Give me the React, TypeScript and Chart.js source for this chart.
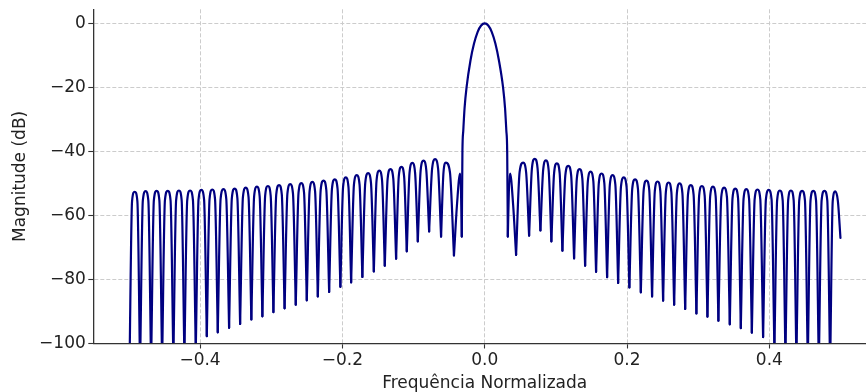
import React, { useEffect, useRef } from 'react';
import { Chart, registerables } from 'chart.js';

Chart.register(...registerables);

// Null (lobe boundary) frequencies and levels, left to right (curve start/end included)
const nullFreq = [
  -0.4993, -0.4843, -0.4688, -0.4533, -0.4375, -0.4220, -0.4060, -0.3905, -0.3751, -0.3592,
  -0.3437, -0.3279, -0.3124, -0.2969, -0.2812, -0.2655, -0.2500, -0.2345, -0.2186, -0.2028,
  -0.1877, -0.1719, -0.1558, -0.1404, -0.1245, -0.1095, -0.0940, -0.0781, -0.0613, -0.0432,
  -0.0322,
  0.0325, 0.0441, 0.0624, 0.0783, 0.0937, 0.1092, 0.1256, 0.1411, 0.1565, 0.1720,
  0.1875, 0.2033, 0.2194, 0.2352, 0.2507, 0.2662, 0.2817, 0.2975, 0.3130, 0.3284,
  0.3444, 0.3599, 0.3754, 0.3912, 0.4071, 0.4226, 0.4380, 0.4540, 0.4695, 0.4854,
  0.4999,
];
const nullDb = [
  -110, -108, -107, -106, -105, -104, -102, -97.7, -96.5, -95.1,
  -93.9, -92.5, -91.5, -90.2, -89.0, -87.9, -86.5, -85.3, -83.9, -82.3,
  -80.9, -79.2, -77.5, -75.7, -73.5, -71.2, -68.1, -65.0, -66.6, -72.5,
  -66.6,
  -66.6, -72.3, -66.3, -64.7, -68.1, -71.0, -73.4, -75.7, -77.6, -79.3,
  -81.1, -82.5, -84.0, -85.3, -86.6, -87.9, -89.2, -90.6, -91.6, -92.9,
  -94.0, -95.2, -96.6, -98.0, -102, -104, -105, -106, -107, -108,
  -67,
];

// Side-lobe peaks, left to right
const peakFreq = [
  -0.4918, -0.4765, -0.4610, -0.4454, -0.4297, -0.4140, -0.3982, -0.3828, -0.3671, -0.3514,
  -0.3358, -0.3201, -0.3046, -0.2890, -0.2733, -0.2577, -0.2422, -0.2265, -0.2107, -0.1952,
  -0.1798, -0.1638, -0.1481, -0.1324, -0.1170, -0.1017, -0.0860, -0.0697, -0.0545, -0.0346,
  0.0357, 0.0540, 0.0703, 0.0860, 0.1014, 0.1174, 0.1333, 0.1488, 0.1642, 0.1797,
  0.1954, 0.2113, 0.2273, 0.2429, 0.2584, 0.2739, 0.2896, 0.3052, 0.3207, 0.3364,
  0.3521, 0.3676, 0.3833, 0.3991, 0.4148, 0.4303, 0.4460, 0.4617, 0.4774, 0.4927,
];
const peakDb = [
  -52.6, -52.4, -52.3, -52.3, -52.2, -52.2, -52.0, -51.9, -51.8, -51.6,
  -51.3, -51.0, -50.8, -50.5, -50.2, -49.9, -49.5, -49.1, -48.7, -48.1,
  -47.4, -46.8, -46.0, -45.5, -44.8, -43.6, -42.9, -42.4, -43.5, -46.9,
  -46.9, -43.5, -42.3, -42.8, -43.7, -44.5, -45.5, -46.3, -46.9, -47.4,
  -48.1, -48.7, -49.1, -49.4, -49.7, -50.0, -50.5, -50.8, -51.0, -51.3,
  -51.6, -51.8, -51.9, -52.0, -52.2, -52.2, -52.3, -52.3, -52.3, -52.5,
];
// Level of each lobe half way between its peak and its left / right null
const leftShoulderDb = [
  -55.6, -55.4, -55.3, -55.3, -55.2, -55.2, -55.0, -54.9, -54.8, -54.6,
  -54.3, -54.0, -53.8, -53.5, -53.2, -52.9, -52.5, -52.1, -51.7, -51.1,
  -50.4, -49.8, -49.0, -48.5, -47.8, -46.6, -45.9, -45.4, -46.5, -56.5,
  -51.0, -46.5, -45.3, -45.8, -46.7, -47.5, -48.5, -49.3, -49.9, -50.4,
  -51.1, -51.7, -52.1, -52.4, -52.7, -53.0, -53.5, -53.8, -54.0, -54.3,
  -54.6, -54.8, -54.9, -55.0, -55.2, -55.2, -55.3, -55.3, -55.3, -55.5,
];
const rightShoulderDb = [
  -55.6, -55.4, -55.3, -55.3, -55.2, -55.2, -55.0, -54.9, -54.8, -54.6,
  -54.3, -54.0, -53.8, -53.5, -53.2, -52.9, -52.5, -52.1, -51.7, -51.1,
  -50.4, -49.8, -49.0, -48.5, -47.8, -46.6, -45.9, -45.4, -46.5, -51.0,
  -56.5, -46.5, -45.3, -45.8, -46.7, -47.5, -48.5, -49.3, -49.9, -50.4,
  -51.1, -51.7, -52.1, -52.4, -52.7, -53.0, -53.5, -53.8, -54.0, -54.3,
  -54.6, -54.8, -54.9, -55.0, -55.2, -55.2, -55.3, -55.3, -55.3, -55.5,
];

// Main lobe
const mainLobeFreq = [
  -0.0322, -0.0313, -0.0301, -0.0283, -0.0255, -0.0200, -0.0150, -0.0100, -0.0050, 0,
  0.0050, 0.0100, 0.0150, 0.0200, 0.0258, 0.0286, 0.0304, 0.0316, 0.0325,
];
const mainLobeDb = [
  -66.6, -40, -33.5, -26.5, -20, -11.6, -6.3, -2.7, -0.65, 0,
  -0.65, -2.7, -6.3, -11.6, -20, -26.5, -33.5, -40, -66.6,
];

const xTickValues = [-0.4, -0.2, 0, 0.2, 0.4];
const yTickValues = [-100, -80, -60, -40, -20, 0];

const LINE_COLOR = '#000080';
const TEXT_COLOR = '#222222';
const FONT = "'DejaVu Sans', 'Liberation Sans', sans-serif";

function buildDatasets() {
  const sets: any[] = [];
  sets.push({
    data: mainLobeFreq.map((f, i) => ({ x: f, y: mainLobeDb[i] })),
  });
  for (let j = 0; j < peakFreq.length; j++) {
    const a = j < 30 ? j : j + 1;
    const b = a + 1;
    sets.push({
      data: [
        { x: nullFreq[a], y: nullDb[a] },
        { x: (nullFreq[a] + peakFreq[j]) / 2, y: leftShoulderDb[j] },
        { x: peakFreq[j], y: peakDb[j] },
        { x: (peakFreq[j] + nullFreq[b]) / 2, y: rightShoulderDb[j] },
        { x: nullFreq[b], y: nullDb[b] },
      ],
    });
  }
  return sets.map((s) => ({
    ...s,
    borderColor: LINE_COLOR,
    borderWidth: 2.2,
    pointRadius: 0,
    cubicInterpolationMode: 'monotone',
    borderCapStyle: 'round',
    borderJoinStyle: 'round',
    fill: false,
  }));
}

export default function App() {
  const ref = useRef<HTMLCanvasElement | null>(null);

  useEffect(() => {
    if (!ref.current) return;
    Chart.defaults.font.family = FONT;
    const chart = new Chart(ref.current, {
      type: 'line',
      data: { datasets: buildDatasets() },
      options: {
        animation: false,
        responsive: false,
        devicePixelRatio: 1,
        events: [],
        layout: { padding: { top: 9.3, right: 3.9, bottom: 0, left: 0 } },
        plugins: { legend: { display: false }, tooltip: { enabled: false } },
        scales: {
          x: {
            type: 'linear',
            min: -0.55,
            max: 0.55,
            afterBuildTicks: (s: any) => {
              s.ticks = xTickValues.map((v) => ({ value: v }));
            },
            afterFit: (s: any) => {
              s.height = 48.5;
              s.paddingLeft = 0;
              s.paddingRight = 0;
            },
            ticks: {
              autoSkip: false,
              maxRotation: 0,
              padding: 2,
              color: TEXT_COLOR,
              font: { size: 17 },
              callback: (v: any) => Number(v).toFixed(1).replace('-', '\u2212'),
            },
            grid: {
              color: '#cccccc',
              lineWidth: 1,
              drawTicks: true,
              tickLength: 5,
              tickColor: '#333333',
              tickWidth: 1.1,
            },
            border: { display: true, color: '#333333', width: 1.3, dash: [4, 2], z: 1 },
            title: {
              display: true,
              text: 'Frequência Normalizada',
              color: TEXT_COLOR,
              font: { size: 17 },
              padding: { top: 0, bottom: -1.5 },
            },
          },
          y: {
            type: 'linear',
            min: -100,
            max: 4.4,
            afterBuildTicks: (s: any) => {
              s.ticks = yTickValues.map((v) => ({ value: v }));
            },
            afterFit: (s: any) => {
              s.width = 93.3;
              s.paddingTop = 0;
              s.paddingBottom = 0;
            },
            ticks: {
              autoSkip: false,
              padding: 2.5,
              color: TEXT_COLOR,
              font: { size: 17 },
              callback: (v: any) => String(v).replace('-', '\u2212'),
            },
            grid: {
              color: '#cccccc',
              lineWidth: 1,
              drawTicks: true,
              tickLength: 5,
              tickColor: '#333333',
              tickWidth: 1.1,
            },
            border: { display: true, color: '#333333', width: 1.3, dash: [4, 2], z: 1 },
            title: {
              display: true,
              text: 'Magnitude (dB)',
              color: TEXT_COLOR,
              font: { size: 17 },
              padding: { top: 10.5, bottom: 0 },
            },
          },
        },
      } as any,
    });
    return () => chart.destroy();
  }, []);

  return (
    <div
      style={{
        position: 'fixed',
        left: 0,
        top: 0,
        width: 866,
        height: 392,
        overflow: 'hidden',
        background: '#ffffff',
      }}
    >
      <canvas ref={ref} width={880} height={392} style={{ display: 'block' }} />
    </div>
  );
}
